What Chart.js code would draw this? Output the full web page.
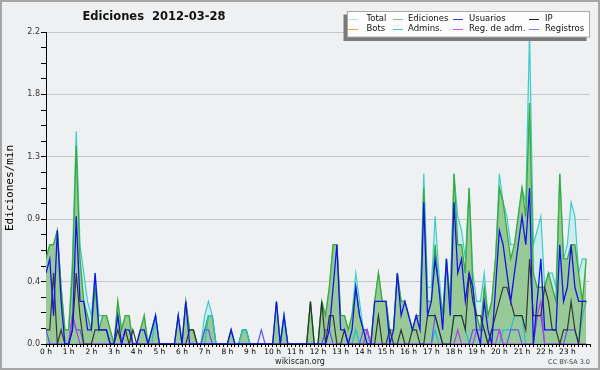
<!DOCTYPE html>
<html><head><meta charset="utf-8">
<script src="https://cdn.jsdelivr.net/npm/chart.js@4.4.1/dist/chart.umd.min.js"></script>
<style>html,body{margin:0;padding:0;background:#efefef;overflow:hidden}canvas{display:block}</style>
</head><body>
<canvas id="c" width="600" height="370"></canvas>
<script>
// 10-minute slots, 6 per hour, 24 hours
const hourLabels = ['0 h','1 h','2 h','3 h','4 h','5 h','6 h','7 h','8 h','9 h','10 h','11 h',
  '12 h','13 h','14 h','15 h','16 h','17 h','18 h','19 h','20 h','21 h','22 h','23 h'];
const yTickLabels = ['0.0','0.4','0.9','1.3','1.8','2.2'];
const seriesNames = ['Total','Ediciones','Usuarios','IP','Bots','Admins.','Reg. de adm.','Registros'];

const total = [
0.6,0.7,0.7,0.8,0.4,0.1, 0.1,0.6,1.5,0.7,0.5,0.3, 0.2,0.5,0.2,0.2,0.2,0.1, 0.0,0.3,0.1,0.2,0.2,0.0,
0.0,0.1,0.2,0.0,0.1,0.2, 0.0,0.0,0.0,0.0,0.0,0.2, 0.0,0.3,0.1,0.1,0.0,0.0, 0.2,0.3,0.2,0.0,0.0,0.0,
0.0,0.1,0.0,0.0,0.1,0.1, 0.0,0.0,0.0,0.0,0.0,0.0, 0.0,0.3,0.0,0.2,0.0,0.0, 0.0,0.0,0.0,0.0,0.3,0.0,
0.0,0.3,0.2,0.4,0.7,0.7, 0.2,0.2,0.1,0.2,0.5,0.3, 0.1,0.1,0.0,0.3,0.5,0.3, 0.3,0.1,0.1,0.5,0.3,0.3,
0.2,0.1,0.2,0.2,1.2,0.4, 0.4,0.9,0.5,0.2,0.6,0.3, 1.2,0.9,0.8,0.6,1.1,0.5, 0.3,0.3,0.5,0.2,0.3,0.6,
1.2,1.0,0.9,0.7,0.7,0.9, 1.1,1.0,2.2,0.7,0.8,0.9, 0.4,0.5,0.5,0.4,1.2,0.6, 0.7,1.0,0.9,0.5,0.6,0.6];
const ediciones = [
0.6,0.7,0.7,0.8,0.4,0.1, 0.1,0.5,1.4,0.6,0.3,0.2, 0.1,0.4,0.1,0.2,0.2,0.1, 0.0,0.3,0.1,0.2,0.2,0.0,
0.0,0.1,0.2,0.0,0.1,0.2, 0.0,0.0,0.0,0.0,0.0,0.2, 0.0,0.3,0.1,0.1,0.0,0.0, 0.1,0.2,0.2,0.0,0.0,0.0,
0.0,0.1,0.0,0.0,0.1,0.1, 0.0,0.0,0.0,0.0,0.0,0.0, 0.0,0.3,0.0,0.2,0.0,0.0, 0.0,0.0,0.0,0.0,0.3,0.0,
0.0,0.3,0.2,0.4,0.7,0.7, 0.2,0.2,0.1,0.2,0.4,0.2, 0.1,0.1,0.0,0.3,0.5,0.3, 0.3,0.1,0.1,0.5,0.3,0.3,
0.2,0.1,0.2,0.2,1.1,0.3, 0.3,0.7,0.4,0.2,0.6,0.3, 1.2,0.7,0.7,0.5,1.1,0.4, 0.2,0.1,0.4,0.2,0.3,0.6,
1.1,1.0,0.8,0.6,0.7,0.9, 1.1,0.9,1.7,0.5,0.4,0.4, 0.4,0.5,0.4,0.3,1.2,0.6, 0.6,0.7,0.7,0.5,0.3,0.6];
const usuarios = [
0.5,0.6,0.2,0.8,0.3,0.0, 0.0,0.1,0.9,0.3,0.3,0.1, 0.1,0.5,0.1,0.1,0.1,0.0, 0.0,0.2,0.0,0.1,0.1,0.0,
0.0,0.1,0.1,0.0,0.1,0.2, 0.0,0.0,0.0,0.0,0.0,0.2, 0.0,0.3,0.0,0.0,0.0,0.0, 0.0,0.0,0.0,0.0,0.0,0.0,
0.0,0.1,0.0,0.0,0.0,0.0, 0.0,0.0,0.0,0.0,0.0,0.0, 0.0,0.3,0.0,0.2,0.0,0.0, 0.0,0.0,0.0,0.0,0.0,0.0,
0.0,0.0,0.0,0.1,0.4,0.7, 0.1,0.1,0.0,0.1,0.4,0.2, 0.1,0.0,0.0,0.3,0.3,0.3, 0.3,0.0,0.1,0.5,0.2,0.3,
0.2,0.1,0.2,0.1,1.0,0.2, 0.3,0.6,0.4,0.1,0.6,0.2, 1.0,0.5,0.6,0.3,0.5,0.4, 0.1,0.0,0.3,0.1,0.0,0.4,
0.8,0.7,0.5,0.3,0.5,0.7, 0.9,0.7,1.1,0.0,0.3,0.6, 0.1,0.1,0.1,0.1,0.7,0.3, 0.4,0.7,0.4,0.3,0.3,0.3];
const ip = [
0.1,0.1,0.5,0.0,0.1,0.0, 0.0,0.1,0.5,0.2,0.0,0.0, 0.0,0.1,0.1,0.1,0.1,0.0, 0.0,0.1,0.0,0.1,0.0,0.1,
0.0,0.0,0.0,0.0,0.0,0.0, 0.0,0.0,0.0,0.0,0.0,0.0, 0.0,0.0,0.1,0.1,0.0,0.0, 0.0,0.0,0.0,0.0,0.0,0.0,
0.0,0.0,0.0,0.0,0.0,0.0, 0.0,0.0,0.0,0.0,0.0,0.0, 0.0,0.0,0.0,0.0,0.0,0.0, 0.0,0.0,0.0,0.0,0.3,0.0,
0.0,0.3,0.0,0.2,0.2,0.0, 0.0,0.1,0.0,0.0,0.0,0.0, 0.0,0.0,0.0,0.0,0.2,0.0, 0.0,0.1,0.0,0.0,0.1,0.0,
0.0,0.1,0.1,0.0,0.0,0.2, 0.2,0.2,0.1,0.0,0.0,0.0, 0.2,0.2,0.2,0.1,0.5,0.3, 0.2,0.2,0.1,0.0,0.1,0.2,
0.3,0.4,0.4,0.3,0.2,0.2, 0.2,0.1,0.6,0.2,0.2,0.2, 0.4,0.3,0.1,0.1,0.0,0.1, 0.1,0.3,0.1,0.0,0.3,0.3];
const bots = [
0,0,0,0,0,0, 0,0,0,0,0,0, 0,0,0,0,0,0, 0,0,0,0,0,0, 0,0,0,0,0,0, 0,0,0,0,0,0,
0,0,0,0,0,0, 0,0,0,0,0,0, 0,0,0,0,0,0, 0,0,0,0,0,0, 0,0,0,0,0,0, 0,0,0,0,0,0,
0,0,0,0,0,0, 0,0,0,0,0,0, 0,0,0,0,0,0, 0,0,0,0,0,0, 0,0,0,0,0,0, 0,0,0,0,0,0,
0,0,0,0,0,0, 0,0,0,0,0,0, 0,0,0,0,0,0, 0,0,0,0,0,0, 0,0,0,0,0,0, 0,0,0,0,0,0];
const admins = [
0,0,0,0,0,0, 0,0,0,0,0,0, 0,0,0,0,0,0, 0,0,0,0,0,0,
0,0,0,0,0,0.2, 0,0,0,0,0,0, 0,0,0,0,0,0, 0,0.2,0.2,0,0,0,
0,0,0,0,0.1,0.1, 0,0,0,0,0,0, 0,0,0,0.2,0,0, 0,0,0,0,0,0,
0,0,0,0,0,0, 0,0,0,0,0.1,0, 0,0,0,0,0,0, 0,0,0,0,0,0,
0,0,0,0,0,0, 0,0.1,0,0,0,0, 0.2,0.2,0.2,0.1,0,0, 0,0,0,0,0,0,
0,0.1,0.1,0.1,0.2,0.2, 0.2,0,0,0,0,0, 0,0,0,0,0,0, 0,0,0,0,0.2,0.3];
const regAdm = [
0,0,0,0,0,0, 0,0.2,0.1,0,0,0, 0,0,0,0,0,0, 0,0,0,0,0,0,
0,0,0,0,0,0, 0,0,0,0,0,0, 0,0,0,0,0,0, 0,0,0,0,0,0,
0,0,0,0,0,0, 0,0,0,0,0,0, 0,0,0,0,0,0, 0,0,0,0,0,0,
0,0,0,0,0,0, 0,0,0,0,0,0, 0,0.1,0,0,0,0, 0,0,0,0,0,0,
0,0,0,0,0,0, 0,0,0,0,0,0, 0,0.1,0,0,0,0, 0.1,0,0,0,0,0,
0.1,0,0,0,0,0, 0,0,0,0,0.2,0.3, 0,0,0,0,0,0, 0,0,0,0,0,0];
const registros = [
0.1,0,0,0,0,0, 0,0.2,0.1,0.1,0,0, 0,0,0,0,0,0, 0,0,0,0,0,0,
0,0,0,0,0,0, 0,0,0,0,0,0, 0,0,0,0,0,0, 0.1,0.1,0,0,0,0,
0,0,0,0,0,0, 0,0,0,0.1,0,0, 0,0,0,0,0,0, 0,0,0,0,0,0,
0,0,0.1,0.1,0,0, 0,0,0,0,0,0, 0.1,0.1,0,0,0,0, 0,0,0,0,0,0,
0,0,0,0,0,0, 0,0.2,0.1,0,0,0, 0,0,0,0,0,0.1, 0.1,0.1,0.1,0,0.1,0.1,
0.1,0,0,0.1,0.1,0.1, 0,0,0,0,0.2,0.2, 0,0,0,0,0,0, 0.1,0.1,0.1,0,0,0];

const legendColors = ['#aee6e6','#7ccc7c','#3c3cdc','#222222','#f4a040','#3cc6dc','#cc4ee0','#7c7cf0'];

const pts = arr => arr.map((v,i)=>({x:i, y:v}));
const line = (label, data, color, order, extra) => Object.assign({
  label, data: pts(data), borderColor: color, borderWidth: 1.2, pointRadius: 0,
  tension: 0, fill: false, order }, extra || {});

const datasets = [
  line(seriesNames[0], total, '#3ccccc', 20, {fill:'origin', backgroundColor:'rgba(196,236,236,0.75)'}),
  line(seriesNames[1], ediciones, '#3aaa3a', 19, {fill:'origin', backgroundColor:'rgb(152,202,152)', borderWidth:1.3}),
  line(seriesNames[4], bots, '#f4a040', 18),
  line(seriesNames[5], admins, '#26bcd2', 17),
  line(seriesNames[7], registros, '#5a5af4', 16),
  line(seriesNames[6], regAdm, '#b040e8', 15),
  line(seriesNames[3], ip, 'rgba(40,40,40,0.9)', 14),
  line(seriesNames[2], usuarios, '#1414e8', 13, {borderWidth:1.3})
];

const deco = {
  id: 'deco',
  beforeDraw(chart) {
    const c = chart.ctx;
    c.save(); c.fillStyle = '#eff0f1'; c.fillRect(0,0,600,370); c.restore();
  },
  afterDraw(chart) {
    const c = chart.ctx;
    c.save();
    // title
    c.fillStyle = '#111'; c.font = 'bold 11.5px "DejaVu Sans"';
    c.textAlign = 'center'; c.textBaseline = 'middle';
    c.fillText('Ediciones  2012-03-28', 154, 17);
    // legend
    c.fillStyle = '#7a7a7a'; c.fillRect(343.5, 14.5, 243, 26.5);
    c.fillStyle = '#fdfdfd'; c.fillRect(347, 11.5, 243, 25.5);
    c.strokeStyle = '#a8a8a8'; c.lineWidth = 1; c.strokeRect(347.5, 11.5, 242, 25.5);
    const order = [0,1,2,3,4,5,6,7];
    const lineX = [348, 393, 453, 529], textX = [366.5, 408, 469, 545], rowY = [19, 29];
    c.font = '8.5px "DejaVu Sans"'; c.textAlign = 'left'; c.textBaseline = 'middle';
    order.forEach((k, n) => {
      const col = n % 4, row = Math.floor(n / 4);
      c.strokeStyle = legendColors[k]; c.lineWidth = 1;
      c.beginPath(); c.moveTo(lineX[col], rowY[row] + 0.5); c.lineTo(lineX[col] + 10, rowY[row] + 0.5); c.stroke();
      c.fillStyle = '#111'; c.fillText(seriesNames[k], textX[col], rowY[row]);
    });
    // footer
    c.fillStyle = '#222'; c.font = '8px "DejaVu Sans"'; c.textAlign = 'center';
    c.fillText('wikiscan.org', 300, 361.5);
    c.fillStyle = '#444'; c.font = '6.5px "DejaVu Sans"'; c.textAlign = 'right';
    c.fillText('CC BY-SA 3.0', 590, 362.5);
    // frame
    c.strokeStyle = '#a6a6a6'; c.lineWidth = 2; c.strokeRect(1, 1, 598, 368);
    c.restore();
  }
};

new Chart(document.getElementById('c'), {
  type: 'line',
  data: { datasets },
  options: {
    responsive: false, animation: false, devicePixelRatio: 1,
    layout: { padding: { top: 32, right: 10, left: 0, bottom: 0 } },
    plugins: { legend: { display: false }, tooltip: { enabled: false }, title: { display: false } },
    scales: {
      x: {
        type: 'linear', min: 0, max: 144, z: 1,
        afterBuildTicks: s => { s.ticks = Array.from({length:145}, (_, k) => ({value: k})); },
        ticks: { autoSkip: false, maxRotation: 0, padding: 1, color: '#000',
          font: { family: 'DejaVu Sans', size: 7.5 },
          callback: (v, i) => (i % 6 === 0 && i / 6 < hourLabels.length) ? hourLabels[i / 6] : '' },
        grid: { drawOnChartArea: false, drawTicks: true, tickLength: 3, color: '#000', tickColor: '#000' },
        border: { color: '#000', width: 1 },
        afterFit: s => { s.height = 26; }
      },
      y: {
        min: 0, max: 2.2, z: 1,
        afterBuildTicks: s => { s.ticks = Array.from({length:21}, (_, k) => ({value: +(k * 0.11).toFixed(2)})); },
        ticks: { padding: 1, color: '#333', font: { family: 'DejaVu Sans', size: 8 },
          callback: (v, i) => (i % 4 === 0) ? yTickLabels[i / 4] : '' },
        grid: { drawTicks: true, tickLength: 5,
          color: ctx => (ctx.index % 4 === 0 && ctx.index > 0) ? '#c6c6c6' : 'rgba(0,0,0,0)',
          tickColor: '#000' },
        border: { color: '#000', width: 1 },
        title: { display: true, text: 'Ediciones/min', color: '#000',
          font: { family: 'DejaVu Sans Mono', size: 11 }, padding: { top: 4, bottom: 0 } },
        afterFit: s => { s.width = 46; }
      }
    }
  },
  plugins: [deco]
});
</script>
</body></html>
